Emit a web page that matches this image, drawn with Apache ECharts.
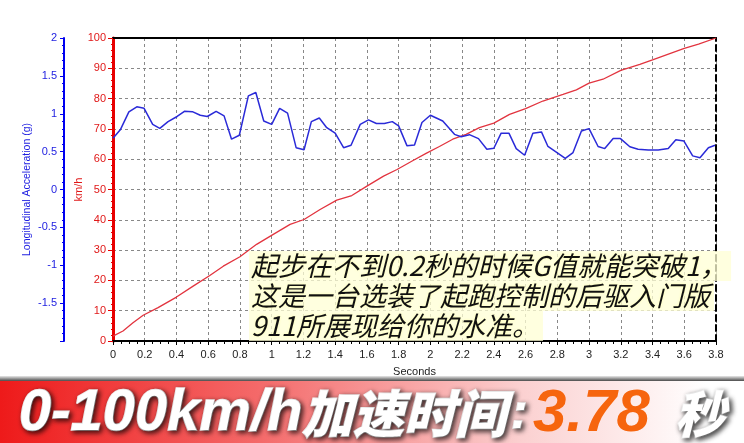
<!DOCTYPE html>
<html>
<head>
<meta charset="utf-8">
<script src="https://cdn.jsdelivr.net/npm/echarts@6/dist/echarts.min.js"></script>
<style>
html,body{margin:0;padding:0;background:#fff}
#main{width:744px;height:443px}
</style>
</head>
<body>
<div id="main"></div>
<script>
// speed trace (km/h) vs seconds
var speedTime = [0,0.063,0.126,0.19,0.284,0.4,0.505,0.61,0.695,0.8,0.905,1.01,1.116,1.204,1.305,1.41,1.505,1.6,1.705,1.79,1.888,1.973,2.057,2.141,2.225,2.309,2.4,2.499,2.6,2.709,2.836,2.92,3.0,3.088,3.2,3.32,3.4,3.6,3.69,3.8];
var speedKmh = [1.6,3.3,6.0,8.5,11.0,14.5,18.1,21.6,24.7,27.8,31.9,35.2,38.5,40.1,43.4,46.5,48.0,51.1,54.4,56.6,59.5,61.9,64.2,66.6,68.2,70.4,71.9,74.8,76.7,79.2,81.4,82.9,85.1,86.4,89.3,91.3,92.8,96.6,98.0,100.0];

// longitudinal acceleration (g) vs seconds
var accelTime = [0,0.046,0.1,0.15,0.196,0.25,0.295,0.347,0.404,0.45,0.5,0.55,0.594,0.65,0.7,0.747,0.796,0.853,0.9,0.95,1.0,1.05,1.1,1.154,1.204,1.25,1.3,1.347,1.4,1.453,1.5,1.558,1.61,1.66,1.71,1.76,1.8,1.853,1.9,1.947,2.0,2.078,2.152,2.194,2.246,2.303,2.356,2.4,2.446,2.495,2.541,2.594,2.646,2.7,2.741,2.798,2.85,2.899,2.952,3.0,3.057,3.099,3.152,3.198,3.257,3.309,3.373,3.436,3.499,3.547,3.598,3.653,3.699,3.752,3.794];
var accelG = [0.676,0.788,1.024,1.092,1.072,0.86,0.808,0.896,0.964,1.032,1.028,0.98,0.964,1.032,0.972,0.664,0.716,1.236,1.28,0.904,0.86,1.072,1.008,0.552,0.524,0.896,0.944,0.816,0.744,0.552,0.584,0.86,0.92,0.872,0.872,0.896,0.84,0.576,0.588,0.884,0.98,0.904,0.728,0.696,0.724,0.672,0.532,0.544,0.744,0.744,0.54,0.452,0.744,0.76,0.568,0.488,0.412,0.488,0.772,0.804,0.568,0.54,0.672,0.672,0.564,0.532,0.52,0.52,0.54,0.656,0.64,0.444,0.42,0.552,0.584];

var noteLines = ['起步在不到0.2秒的时候G值就能突破1，', '这是一台选装了起跑控制的后驱入门版', '911所展现给你的水准。'];
var bannerLabel = '0-100km/h';
var bannerLabelCn = '加速时间';
var bannerValue = '3.78';
var bannerUnit = '秒';

var baseFont = '"Liberation Sans", Arial, sans-serif';
var cjkFont = '"Noto Sans CJK SC", sans-serif';

var chart = echarts.init(document.getElementById('main'));

var speedData = speedTime.map(function (t, i) { return [t, speedKmh[i]]; });
var accelData = accelTime.map(function (t, i) { return [t, accelG[i]]; });

// annotation lines, one text per line so each gets its own backdrop
var noteGraphics = noteLines.map(function (txt, i) {
    return {
        type: 'text',
        left: 249,
        top: 251 + i * 30,
        z: 50,
        style: {
            text: txt,
            font: 'italic 27px ' + cjkFont,
            fill: '#111',
            lineHeight: 30,
            backgroundColor: 'rgba(255,255,212,0.75)',
            padding: [0, 4, 0, 2],
            textShadowColor: 'rgba(255,255,170,0.9)',
            textShadowBlur: 3
        }
    };
});

var shadowTxt = {
    stroke: '#fff',
    lineWidth: 1.5,
    textShadowColor: 'rgba(0,0,0,0.75)',
    textShadowBlur: 5,
    textShadowOffsetX: 2,
    textShadowOffsetY: 2
};

var bannerGraphics = [
    {
        type: 'rect', z: 40,
        shape: { x: 0, y: 376, width: 744, height: 6 },
        style: {
            fill: new echarts.graphic.LinearGradient(0, 0, 0, 1, [
                { offset: 0, color: '#e8e8e8' },
                { offset: 0.5, color: '#8a8a8a' },
                { offset: 1, color: '#2a2a2a' }
            ])
        }
    },
    {
        type: 'rect', z: 40,
        shape: { x: 0, y: 381, width: 744, height: 62 },
        style: {
            fill: new echarts.graphic.LinearGradient(0, 0, 1, 0, [
                { offset: 0, color: '#ee1a1a' },
                { offset: 0.35, color: '#f46a6a' },
                { offset: 0.7, color: '#fbd0d0' },
                { offset: 0.95, color: '#ffffff' }
            ])
        }
    },
    {
        type: 'text', z: 45, x: 19, y: 414,
        style: echarts.util.extend({
            text: bannerLabel, fill: '#fff', verticalAlign: 'middle',
            font: 'italic bold 58px ' + baseFont
        }, shadowTxt)
    },
    {
        type: 'text', z: 45, x: 302, y: 414,
        style: echarts.util.extend({
            text: bannerLabelCn, fill: '#fff', verticalAlign: 'middle',
            font: 'italic 900 51px ' + cjkFont
        }, shadowTxt)
    },
    {
        type: 'text', z: 45, x: 511, y: 414,
        style: echarts.util.extend({
            text: ':', fill: '#fff', verticalAlign: 'middle',
            font: 'italic bold 50px ' + baseFont
        }, shadowTxt)
    },
    {
        type: 'text', z: 45, x: 533, y: 414,
        style: {
            text: bannerValue, fill: '#f6650e', verticalAlign: 'middle',
            font: 'italic bold 60px ' + baseFont
        }
    },
    {
        type: 'text', z: 45, x: 675, y: 414,
        style: echarts.util.extend({
            text: bannerUnit, fill: '#fff', verticalAlign: 'middle',
            font: 'italic 900 50px ' + cjkFont
        }, shadowTxt)
    }
];

var option = {
    animation: false,
    backgroundColor: '#fff',
    grid: { left: 113, right: 28, top: 38, bottom: 102 },
    xAxis: [{
        type: 'value',
        min: 0,
        max: 3.8,
        interval: 0.2,
        position: 'bottom',
        name: 'Seconds',
        nameLocation: 'middle',
        nameGap: 25,
        nameTextStyle: { color: '#222', fontSize: 11, fontFamily: baseFont },
        axisLine: { onZero: false, lineStyle: { color: '#000', width: 2 } },
        axisTick: { length: 4, lineStyle: { color: '#000' } },
        minorTick: { show: true, splitNumber: 4, length: 3, lineStyle: { color: '#000' } },
        axisLabel: { color: '#222', fontSize: 11, fontFamily: baseFont, margin: 8 },
        splitLine: { show: true, lineStyle: { color: '#888', type: [3, 3] } }
    }, {
        type: 'value',
        min: 0,
        max: 3.8,
        position: 'top',
        axisLine: { onZero: false, lineStyle: { color: '#000', width: 2 } },
        axisTick: { show: false },
        axisLabel: { show: false },
        splitLine: { show: false }
    }],
    yAxis: [{
        type: 'value',
        min: 0,
        max: 100,
        interval: 10,
        position: 'left',
        name: 'km/h',
        nameLocation: 'middle',
        nameGap: 29,
        nameMoveOverlap: false,
        nameTextStyle: { color: '#e01818', fontSize: 11, fontFamily: baseFont },
        axisLine: { show: true, onZero: false, lineStyle: { color: '#e80000', width: 3 } },
        axisTick: { show: true, length: 5, lineStyle: { color: '#e80000' } },
        minorTick: { show: true, splitNumber: 5, length: 2, lineStyle: { color: '#e80000' } },
        axisLabel: { color: '#e01818', fontSize: 11, fontFamily: baseFont, margin: 7 },
        splitLine: { show: true, lineStyle: { color: '#888', type: [3, 3] } }
    }, {
        type: 'value',
        min: -2,
        max: 2,
        interval: 0.5,
        position: 'left',
        offset: 49,
        name: 'Longitudinal Acceleration (g)',
        nameLocation: 'middle',
        nameGap: 31,
        nameMoveOverlap: false,
        nameTextStyle: { color: '#1c1ce0', fontSize: 10.5, fontFamily: baseFont },
        axisLine: { show: true, onZero: false, lineStyle: { color: '#0000f0', width: 2 } },
        axisTick: { show: true, length: 4, lineStyle: { color: '#0000f0' } },
        minorTick: { show: true, splitNumber: 5, length: 2, lineStyle: { color: '#0000f0' } },
        axisLabel: {
            color: '#1c1ce0', fontSize: 11, fontFamily: baseFont, margin: 7,
            formatter: function (v) { return v === -2 ? '' : String(v); }
        },
        splitLine: { show: false }
    }, {
        type: 'value',
        min: 0,
        max: 100,
        position: 'right',
        axisLine: { show: true, onZero: false, lineStyle: { color: '#000', width: 2, type: [6, 4] } },
        axisTick: { show: false },
        axisLabel: { show: false },
        splitLine: { show: false }
    }],
    series: [{
        name: 'km/h',
        type: 'line',
        xAxisIndex: 0,
        yAxisIndex: 0,
        showSymbol: false,
        lineStyle: { color: '#e2343f', width: 1.3 },
        data: speedData,
        z: 3
    }, {
        name: 'Longitudinal Acceleration (g)',
        type: 'line',
        xAxisIndex: 0,
        yAxisIndex: 1,
        showSymbol: false,
        lineStyle: { color: '#2a2ad8', width: 1.5 },
        data: accelData,
        z: 4
    }],
    graphic: noteGraphics.concat(bannerGraphics)
};

chart.setOption(option);
</script>
</body>
</html>
